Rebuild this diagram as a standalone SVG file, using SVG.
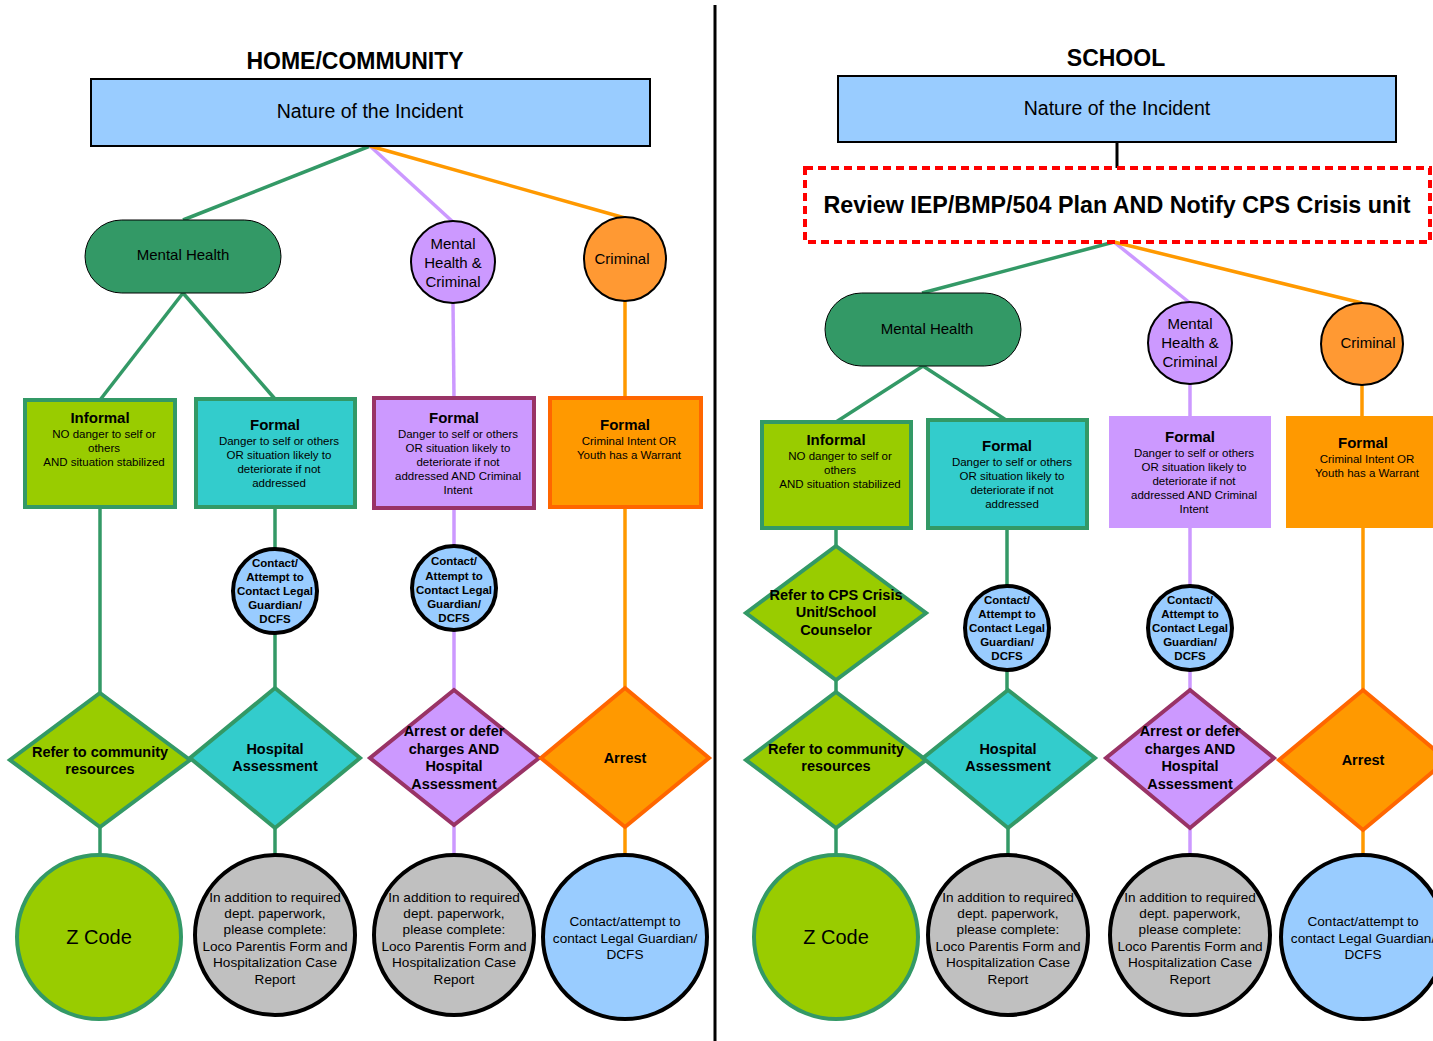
<svg xmlns="http://www.w3.org/2000/svg" width="1433" height="1041" viewBox="0 0 1433 1041">
<style>
text{font-family:"Liberation Sans",Arial,sans-serif;fill:#000;text-anchor:middle}
.title{font-size:23px;font-weight:bold}
.nat{font-size:19.5px}
.cat{font-size:15px}
.hd{font-size:15px;font-weight:bold}
.sm{font-size:11.5px}
.ct{font-size:11.5px;font-weight:bold}
.dm{font-size:14.5px;font-weight:bold}
.bt{font-size:13.6px}
.zc{font-size:20px}
.g{stroke:#339966;stroke-width:3.5;fill:none}
.p{stroke:#cc99ff;stroke-width:3.5;fill:none}
.o{stroke:#ff9900;stroke-width:3.5;fill:none}
.nature{fill:#99ccff;stroke:#000;stroke-width:2}
.mh{fill:#339966;stroke:#000;stroke-width:1}
.mhc{fill:#cc99ff;stroke:#000;stroke-width:2}
.cr{fill:#ff9933;stroke:#000;stroke-width:2}
.bInf{fill:#99cc00;stroke:#339966;stroke-width:4}
.bTeal{fill:#33cccc;stroke:#339966;stroke-width:4}
.bPur{fill:#cc99ff;stroke:#993366;stroke-width:4}
.bPur2{fill:#cc99ff;stroke:#cc99ff;stroke-width:2}
.bOr{fill:#ff9900;stroke:#ff6600;stroke-width:4}
.bOr2{fill:#ff9900;stroke:#ff9900;stroke-width:2}
.cc{fill:#99ccff;stroke:#000;stroke-width:4}
.gray{fill:#c0c0c0;stroke:#000;stroke-width:4}
.zcode{fill:#99cc00;stroke:#339966;stroke-width:4}
</style>

<line x1="715" y1="5" x2="715" y2="1041" stroke="#000" stroke-width="3"/>

<g id="connectors">
  <!-- left -->
  <line class="g" x1="370" y1="146" x2="183" y2="220"/>
  <line class="p" x1="370" y1="146" x2="453" y2="222"/>
  <line class="o" x1="370" y1="146" x2="625" y2="218"/>
  <line class="g" x1="183" y1="293" x2="100" y2="400"/>
  <line class="g" x1="183" y1="293" x2="275" y2="399"/>
  <line class="p" x1="453" y1="303" x2="454" y2="398"/>
  <line class="o" x1="625" y1="301" x2="625" y2="398"/>
  <line class="g" x1="100" y1="507" x2="100" y2="693"/>
  <line class="g" x1="275" y1="507" x2="275" y2="549"/>
  <line class="g" x1="275" y1="633" x2="275" y2="688"/>
  <line class="p" x1="454" y1="508" x2="454" y2="546"/>
  <line class="p" x1="454" y1="630" x2="454" y2="690"/>
  <line class="o" x1="625" y1="507" x2="625" y2="688"/>
  <line class="g" x1="100" y1="827" x2="100" y2="855"/>
  <line class="g" x1="275" y1="828" x2="275" y2="854"/>
  <line class="p" x1="454" y1="825" x2="454" y2="854"/>
  <line class="o" x1="625" y1="827" x2="625" y2="855"/>
  <!-- right -->
  <line x1="1117" y1="142" x2="1117" y2="168" stroke="#000" stroke-width="3"/>
  <line class="g" x1="1114" y1="242" x2="922" y2="293"/>
  <line class="p" x1="1114" y1="242" x2="1190" y2="303"/>
  <line class="o" x1="1114" y1="242" x2="1362" y2="303"/>
  <line class="g" x1="923" y1="366" x2="836" y2="422"/>
  <line class="g" x1="923" y1="366" x2="1006" y2="420"/>
  <line class="p" x1="1190" y1="384" x2="1190" y2="417"/>
  <line class="o" x1="1362" y1="385" x2="1362" y2="417"/>
  <line class="g" x1="836" y1="528" x2="836" y2="546"/>
  <line class="g" x1="836" y1="680" x2="836" y2="692"/>
  <line class="g" x1="1007" y1="528" x2="1007" y2="586"/>
  <line class="g" x1="1007" y1="670" x2="1007" y2="690"/>
  <line class="p" x1="1190" y1="527" x2="1190" y2="586"/>
  <line class="p" x1="1190" y1="670" x2="1190" y2="690"/>
  <line class="o" x1="1363" y1="527" x2="1363" y2="690"/>
  <line class="g" x1="836" y1="828" x2="836" y2="855"/>
  <line class="g" x1="1008" y1="828" x2="1008" y2="854"/>
  <line class="p" x1="1190" y1="828" x2="1190" y2="854"/>
  <line class="o" x1="1363" y1="830" x2="1363" y2="855"/>
</g>

<!-- ================= LEFT ================= -->
<g id="title-home"><text class="title" x="355" y="69">HOME/COMMUNITY</text></g>

<g id="nature-left">
  <rect class="nature" x="91" y="79" width="559" height="67"/>
  <text class="nat" x="370" y="118">Nature of the Incident</text>
</g>

<g id="mh-left">
  <rect class="mh" x="85" y="220" width="196" height="73" rx="36.5"/>
  <text class="cat" x="183" y="260">Mental Health</text>
</g>

<g id="mhc-left">
  <ellipse class="mhc" cx="453" cy="262" rx="42" ry="41"/>
  <text class="cat" x="453" y="249">Mental</text>
  <text class="cat" x="453" y="268">Health &amp;</text>
  <text class="cat" x="453" y="287">Criminal</text>
</g>

<g id="crim-left">
  <ellipse class="cr" cx="625" cy="259" rx="41" ry="42"/>
  <text class="cat" x="622" y="264">Criminal</text>
</g>

<g id="informal-left">
  <rect class="bInf" x="25" y="400" width="150" height="107"/>
  <text class="hd" x="100" y="423">Informal</text>
  <text class="sm" x="104" y="438">NO danger to self or</text>
  <text class="sm" x="104" y="452">others</text>
  <text class="sm" x="104" y="466">AND situation stabilized</text>
</g>

<g id="formal-teal-left">
  <rect class="bTeal" x="196" y="399" width="159" height="108"/>
  <text class="hd" x="275" y="430">Formal</text>
  <text class="sm" x="279" y="445">Danger to self or others</text>
  <text class="sm" x="279" y="459">OR situation likely to</text>
  <text class="sm" x="279" y="473">deteriorate if not</text>
  <text class="sm" x="279" y="487">addressed</text>
</g>

<g id="formal-purple-left">
  <rect class="bPur" x="374" y="398" width="160" height="110"/>
  <text class="hd" x="454" y="423">Formal</text>
  <text class="sm" x="458" y="438">Danger to self or others</text>
  <text class="sm" x="458" y="452">OR situation likely to</text>
  <text class="sm" x="458" y="466">deteriorate if not</text>
  <text class="sm" x="458" y="480">addressed AND Criminal</text>
  <text class="sm" x="458" y="494">Intent</text>
</g>

<g id="formal-orange-left">
  <rect class="bOr" x="550" y="398" width="151" height="109"/>
  <text class="hd" x="625" y="430">Formal</text>
  <text class="sm" x="629" y="445">Criminal Intent OR</text>
  <text class="sm" x="629" y="459">Youth has a Warrant</text>
</g>

<g id="contact-teal-left">
  <circle class="cc" cx="275" cy="591" r="42"/>
  <text class="ct" x="275" y="567">Contact/</text>
  <text class="ct" x="275" y="581">Attempt to</text>
  <text class="ct" x="275" y="595">Contact Legal</text>
  <text class="ct" x="275" y="609">Guardian/</text>
  <text class="ct" x="275" y="623">DCFS</text>
</g>

<g id="contact-purple-left">
  <circle class="cc" cx="454" cy="588" r="42"/>
  <text class="ct" x="454" y="565">Contact/</text>
  <text class="ct" x="454" y="580">Attempt to</text>
  <text class="ct" x="454" y="594">Contact Legal</text>
  <text class="ct" x="454" y="608">Guardian/</text>
  <text class="ct" x="454" y="622">DCFS</text>
</g>

<g id="d-community-left">
  <polygon class="bInf" points="100,693 190,760 100,827 10,760"/>
  <text class="dm" x="100" y="757">Refer to community</text>
  <text class="dm" x="100" y="774">resources</text>
</g>

<g id="d-hospital-left">
  <polygon class="bTeal" points="275,688 360,758 275,828 190,758"/>
  <text class="dm" x="275" y="754">Hospital</text>
  <text class="dm" x="275" y="771">Assessment</text>
</g>

<g id="d-arrestdefer-left">
  <polygon class="bPur" points="454,690 539,758 454,825 370,758"/>
  <text class="dm" x="454" y="736">Arrest or defer</text>
  <text class="dm" x="454" y="754">charges AND</text>
  <text class="dm" x="454" y="771">Hospital</text>
  <text class="dm" x="454" y="789">Assessment</text>
</g>

<g id="d-arrest-left">
  <polygon class="bOr" points="625,688 709,758 625,827 541,758"/>
  <text class="dm" x="625" y="763">Arrest</text>
</g>

<g id="zcode-left">
  <circle class="zcode" cx="99" cy="937" r="82"/>
  <text class="zc" x="99" y="944">Z Code</text>
</g>

<g id="report-teal-left">
  <circle class="gray" cx="275" cy="935" r="80"/>
  <text class="bt" x="275" y="902">In addition to required</text>
  <text class="bt" x="275" y="918">dept. paperwork,</text>
  <text class="bt" x="275" y="934">please complete:</text>
  <text class="bt" x="275" y="951">Loco Parentis Form and</text>
  <text class="bt" x="275" y="967">Hospitalization Case</text>
  <text class="bt" x="275" y="984">Report</text>
</g>

<g id="report-purple-left">
  <circle class="gray" cx="454" cy="935" r="80"/>
  <text class="bt" x="454" y="902">In addition to required</text>
  <text class="bt" x="454" y="918">dept. paperwork,</text>
  <text class="bt" x="454" y="934">please complete:</text>
  <text class="bt" x="454" y="951">Loco Parentis Form and</text>
  <text class="bt" x="454" y="967">Hospitalization Case</text>
  <text class="bt" x="454" y="984">Report</text>
</g>

<g id="contact-orange-left">
  <circle class="cc" cx="625" cy="937" r="82"/>
  <text class="bt" x="625" y="926">Contact/attempt to</text>
  <text class="bt" x="625" y="943">contact Legal Guardian/</text>
  <text class="bt" x="625" y="959">DCFS</text>
</g>

<!-- ================= RIGHT ================= -->
<g id="title-school"><text class="title" x="1116" y="66">SCHOOL</text></g>

<g id="nature-right">
  <rect class="nature" x="838" y="76" width="558" height="66"/>
  <text class="nat" x="1117" y="115">Nature of the Incident</text>
</g>

<g id="review">
  <rect x="805" y="168" width="625" height="74" fill="none" stroke="#ff0000" stroke-width="4" stroke-dasharray="8,5"/>
  <text x="1117" y="213" textLength="587" lengthAdjust="spacingAndGlyphs" style="font-size:23px;font-weight:bold">Review IEP/BMP/504 Plan AND Notify CPS Crisis unit</text>
</g>

<g id="mh-right">
  <rect class="mh" x="825" y="293" width="196" height="73" rx="36.5"/>
  <text class="cat" x="927" y="334">Mental Health</text>
</g>

<g id="mhc-right">
  <ellipse class="mhc" cx="1190" cy="343" rx="42" ry="41"/>
  <text class="cat" x="1190" y="329">Mental</text>
  <text class="cat" x="1190" y="348">Health &amp;</text>
  <text class="cat" x="1190" y="367">Criminal</text>
</g>

<g id="crim-right">
  <ellipse class="cr" cx="1362" cy="344" rx="41" ry="41"/>
  <text class="cat" x="1368" y="348">Criminal</text>
</g>

<g id="informal-right">
  <rect class="bInf" x="762" y="422" width="149" height="106"/>
  <text class="hd" x="836" y="445">Informal</text>
  <text class="sm" x="840" y="460">NO danger to self or</text>
  <text class="sm" x="840" y="474">others</text>
  <text class="sm" x="840" y="488">AND situation stabilized</text>
</g>

<g id="formal-teal-right">
  <rect class="bTeal" x="928" y="420" width="159" height="108"/>
  <text class="hd" x="1007" y="451">Formal</text>
  <text class="sm" x="1012" y="466">Danger to self or others</text>
  <text class="sm" x="1012" y="480">OR situation likely to</text>
  <text class="sm" x="1012" y="494">deteriorate if not</text>
  <text class="sm" x="1012" y="508">addressed</text>
</g>

<g id="formal-purple-right">
  <rect class="bPur2" x="1110" y="417" width="160" height="110"/>
  <text class="hd" x="1190" y="442">Formal</text>
  <text class="sm" x="1194" y="457">Danger to self or others</text>
  <text class="sm" x="1194" y="471">OR situation likely to</text>
  <text class="sm" x="1194" y="485">deteriorate if not</text>
  <text class="sm" x="1194" y="499">addressed AND Criminal</text>
  <text class="sm" x="1194" y="513">Intent</text>
</g>

<g id="formal-orange-right">
  <rect class="bOr2" x="1287" y="417" width="155" height="110"/>
  <text class="hd" x="1363" y="448">Formal</text>
  <text class="sm" x="1367" y="463">Criminal Intent OR</text>
  <text class="sm" x="1367" y="477">Youth has a Warrant</text>
</g>

<g id="d-cps">
  <polygon class="bInf" points="836,546 926,613 836,680 746,613"/>
  <text class="dm" x="836" y="600">Refer to CPS Crisis</text>
  <text class="dm" x="836" y="617">Unit/School</text>
  <text class="dm" x="836" y="635">Counselor</text>
</g>

<g id="contact-teal-right">
  <circle class="cc" cx="1007" cy="628" r="42"/>
  <text class="ct" x="1007" y="604">Contact/</text>
  <text class="ct" x="1007" y="618">Attempt to</text>
  <text class="ct" x="1007" y="632">Contact Legal</text>
  <text class="ct" x="1007" y="646">Guardian/</text>
  <text class="ct" x="1007" y="660">DCFS</text>
</g>

<g id="contact-purple-right">
  <circle class="cc" cx="1190" cy="628" r="42"/>
  <text class="ct" x="1190" y="604">Contact/</text>
  <text class="ct" x="1190" y="618">Attempt to</text>
  <text class="ct" x="1190" y="632">Contact Legal</text>
  <text class="ct" x="1190" y="646">Guardian/</text>
  <text class="ct" x="1190" y="660">DCFS</text>
</g>

<g id="d-community-right">
  <polygon class="bInf" points="836,692 926,760 836,828 746,760"/>
  <text class="dm" x="836" y="754">Refer to community</text>
  <text class="dm" x="836" y="771">resources</text>
</g>

<g id="d-hospital-right">
  <polygon class="bTeal" points="1008,690 1095,758 1008,828 923,758"/>
  <text class="dm" x="1008" y="754">Hospital</text>
  <text class="dm" x="1008" y="771">Assessment</text>
</g>

<g id="d-arrestdefer-right">
  <polygon class="bPur" points="1190,690 1274,758 1190,828 1106,758"/>
  <text class="dm" x="1190" y="736">Arrest or defer</text>
  <text class="dm" x="1190" y="754">charges AND</text>
  <text class="dm" x="1190" y="771">Hospital</text>
  <text class="dm" x="1190" y="789">Assessment</text>
</g>

<g id="d-arrest-right">
  <polygon class="bOr" points="1363,690 1447,760 1363,830 1279,760"/>
  <text class="dm" x="1363" y="765">Arrest</text>
</g>

<g id="zcode-right">
  <circle class="zcode" cx="836" cy="937" r="82"/>
  <text class="zc" x="836" y="944">Z Code</text>
</g>

<g id="report-teal-right">
  <circle class="gray" cx="1008" cy="935" r="80"/>
  <text class="bt" x="1008" y="902">In addition to required</text>
  <text class="bt" x="1008" y="918">dept. paperwork,</text>
  <text class="bt" x="1008" y="934">please complete:</text>
  <text class="bt" x="1008" y="951">Loco Parentis Form and</text>
  <text class="bt" x="1008" y="967">Hospitalization Case</text>
  <text class="bt" x="1008" y="984">Report</text>
</g>

<g id="report-purple-right">
  <circle class="gray" cx="1190" cy="935" r="80"/>
  <text class="bt" x="1190" y="902">In addition to required</text>
  <text class="bt" x="1190" y="918">dept. paperwork,</text>
  <text class="bt" x="1190" y="934">please complete:</text>
  <text class="bt" x="1190" y="951">Loco Parentis Form and</text>
  <text class="bt" x="1190" y="967">Hospitalization Case</text>
  <text class="bt" x="1190" y="984">Report</text>
</g>

<g id="contact-orange-right">
  <circle class="cc" cx="1363" cy="937" r="82"/>
  <text class="bt" x="1363" y="926">Contact/attempt to</text>
  <text class="bt" x="1363" y="943">contact Legal Guardian/</text>
  <text class="bt" x="1363" y="959">DCFS</text>
</g>
</svg>
